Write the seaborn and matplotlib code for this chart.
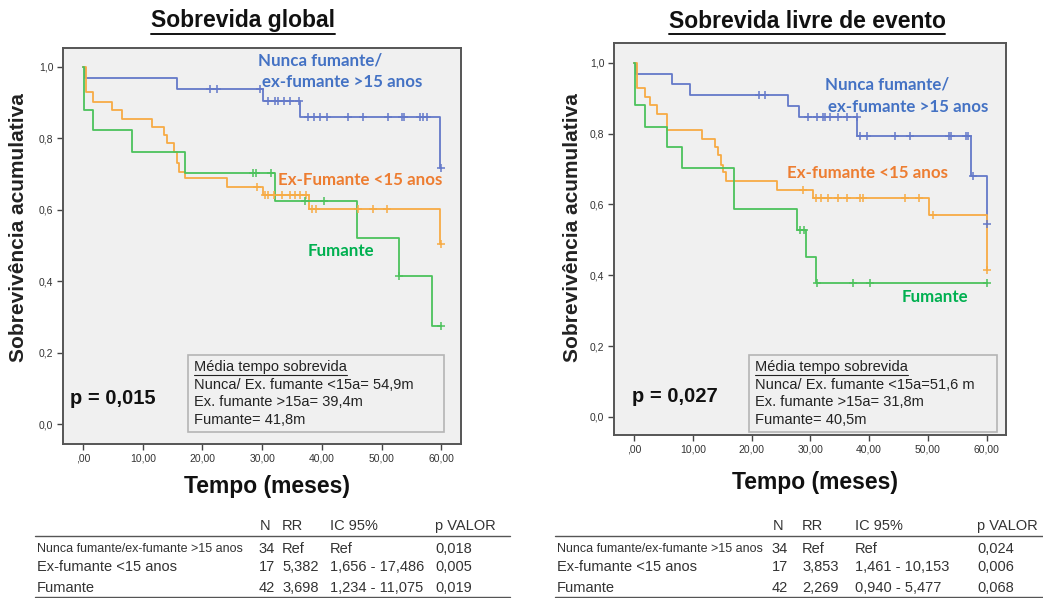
import numpy as np
import pandas as pd
import matplotlib
matplotlib.use("Agg")
import matplotlib.pyplot as plt
import seaborn as sns
from matplotlib.lines import Line2D
from matplotlib.patches import Rectangle

sns.set_theme(style="white")
plt.rcParams["font.family"] = ["Liberation Sans", "DejaVu Sans"]

W, H = 1043, 598

# ---------------- Kaplan-Meier curves: step times and survival levels ----------------
# Sobrevida global
og_nunca_t = [0, 0.3, 15.8, 30.2, 36.3, 59.8, 60.0]
og_nunca_s = [1.0, 0.968, 0.938, 0.905, 0.861, 0.716, 0.716]
og_nunca_cens_t = [21.3, 22.4, 29.6, 31.0, 32.2, 32.7, 33.6, 34.7, 36.2, 37.7, 38.6, 39.7, 40.8,
                   44.4, 46.9, 51.1, 53.4, 53.7, 56.4, 57.0, 57.6, 60.0]
og_exf_t = [0, 0.5, 1.6, 4.8, 6.5, 11.6, 13.6, 14.0, 15.3, 15.7, 16.1, 17.1, 24.1, 30.2, 37.9, 59.8, 60.0]
og_exf_s = [1.0, 0.931, 0.903, 0.878, 0.854, 0.831, 0.810, 0.786, 0.763, 0.730, 0.707, 0.688,
            0.665, 0.640, 0.602, 0.504, 0.504]
og_exf_cens_t = [29.1, 30.5, 31.0, 32.0, 33.3, 34.7, 35.5, 36.3, 37.4, 38.3, 39.1, 46.1, 48.6, 50.9, 60.0]
og_fum_t = [0, 0.2, 1.7, 8.2, 17.1, 32.2, 45.9, 53.0, 58.4, 60.0]
og_fum_s = [1.0, 0.880, 0.822, 0.763, 0.704, 0.625, 0.520, 0.415, 0.275, 0.275]
og_fum_cens_t = [28.5, 29.0, 31.4, 37.2, 40.3, 53.0, 60.0]

# Sobrevida livre de evento
le_nunca_t = [0, 0.3, 6.4, 9.5, 26.2, 28.1, 38.0, 57.4, 60.0, 60.0]
le_nunca_s = [1.0, 0.968, 0.940, 0.910, 0.877, 0.846, 0.794, 0.681, 0.545, 0.545]
le_nunca_cens_t = [21.3, 22.3, 29.6, 31.1, 32.2, 32.5, 33.3, 34.7, 36.2, 37.9, 38.4, 39.6, 44.4,
                   46.9, 53.6, 53.9, 56.5, 56.9, 57.7, 60.0]
le_exf_t = [0, 0.5, 1.9, 2.7, 3.9, 5.7, 11.5, 13.8, 14.3, 14.8, 15.2, 15.6, 24.3, 30.5, 50.2, 60.0, 60.0]
le_exf_s = [1.0, 0.928, 0.903, 0.881, 0.856, 0.809, 0.784, 0.762, 0.740, 0.712, 0.693, 0.665,
            0.641, 0.618, 0.571, 0.415, 0.415]
le_exf_cens_t = [28.8, 31.0, 31.9, 33.0, 34.7, 36.2, 38.4, 39.0, 46.1, 48.5, 50.8, 60.0]
le_fum_t = [0, 0.2, 1.9, 5.7, 8.2, 17.0, 27.7, 29.3, 31.0, 60.0]
le_fum_s = [1.0, 0.880, 0.820, 0.762, 0.704, 0.587, 0.528, 0.453, 0.379, 0.379]
le_fum_cens_t = [28.3, 28.9, 31.2, 37.2, 40.1, 60.0]

groups = ["Nunca fumante/ex-fumante >15 anos", "Ex-fumante <15 anos", "Fumante"]
line_colors = {"Nunca fumante/ex-fumante >15 anos": "#6479C9",
               "Ex-fumante <15 anos": "#F7AB45",
               "Fumante": "#4CC25C"}
text_blue, text_orange, text_green = "#4472C4", "#ED7D31", "#00B050"

p_values = ["p = 0,015", "p = 0,027"]
mean_titles = "Média tempo sobrevida"
mean_lines = [["Nunca/ Ex. fumante <15a= 54,9m", "Ex. fumante >15a= 39,4m", "Fumante= 41,8m"],
              ["Nunca/ Ex. fumante <15a=51,6 m", "Ex. fumante >15a= 31,8m", "Fumante= 40,5m"]]
titles = ["Sobrevida global", "Sobrevida livre de evento"]
xticks = [0, 10, 20, 30, 40, 50, 60]
xtick_labels = [",00", "10,00", "20,00", "30,00", "40,00", "50,00", "60,00"]
yticks = [0.0, 0.2, 0.4, 0.6, 0.8, 1.0]
ytick_labels = ["0,0", "0,2", "0,4", "0,6", "0,8", "1,0"]

# Cox table
tab_header = ["N", "RR", "IC 95%", "p VALOR"]
tab_rows = ["Nunca fumante/ex-fumante >15 anos", "Ex-fumante <15 anos", "Fumante"]
tab_n = ["34", "17", "42"]
tab_rr = [["Ref", "5,382", "3,698"], ["Ref", "3,853", "2,269"]]
tab_ic = [["Ref", "1,656 - 17,486", "1,234 - 11,075"], ["Ref", "1,461 - 10,153", "0,940 - 5,477"]]
tab_p = [["0,018", "0,005", "0,019"], ["0,024", "0,006", "0,068"]]


def surv_at(ts, ss, t):
    idx = np.searchsorted(ts, t, side="right") - 1
    return ss[max(idx, 0)]


def curve_frames(spec):
    lines, cens = [], []
    for g, (t, s, ct) in zip(groups, spec):
        lines.append(pd.DataFrame({"t": t, "s": s, "g": g}))
        cs = [surv_at(t, s, c) for c in ct]
        cens.append(pd.DataFrame({"t": ct, "s": cs, "g": g}))
    return pd.concat(lines, ignore_index=True), pd.concat(cens, ignore_index=True)


panels = [
    [(og_nunca_t, og_nunca_s, og_nunca_cens_t), (og_exf_t, og_exf_s, og_exf_cens_t),
     (og_fum_t, og_fum_s, og_fum_cens_t)],
    [(le_nunca_t, le_nunca_s, le_nunca_cens_t), (le_exf_t, le_exf_s, le_exf_cens_t),
     (le_fum_t, le_fum_s, le_fum_cens_t)],
]

fig = plt.figure(figsize=(W / 100, H / 100), dpi=100)
fig.patch.set_facecolor("white")


def fx(x):
    return x / W


def fy(y):
    return 1 - y / H


def ftext(x, y, s, **kw):
    return fig.text(fx(x), fy(y), s, **kw)


def underline(t, color="#111111", lw=1.2, pad=2.0):
    fig.canvas.draw()
    bb = t.get_window_extent(renderer=fig.canvas.get_renderer())
    y = (bb.y0 - pad) / fig.bbox.height
    fig.add_artist(Line2D([bb.x0 / fig.bbox.width, bb.x1 / fig.bbox.width], [y, y],
                          color=color, lw=lw, transform=fig.transFigure))


# axes boxes (pixels): left, top, right, bottom
ax_boxes = [(63, 48, 461, 444), (614, 43, 1006, 435)]
xlims = [(-3.35, 63.3), (-3.4, 63.3)]
ylims = [(-0.056, 1.053), (-0.051, 1.056)]

axes = []
for i, (l, t, r, b) in enumerate(ax_boxes):
    ax = fig.add_axes([fx(l), fy(b), fx(r) - fx(l), fy(t) - fy(b)])
    ax.set_facecolor("#F0F0F0")
    lines_df, cens_df = curve_frames(panels[i])
    for g in groups:
        sns.lineplot(data=lines_df[lines_df.g == g], x="t", y="s", drawstyle="steps-post",
                     estimator=None, sort=False, color=line_colors[g], lw=1.3, ax=ax, legend=False)
        sns.scatterplot(data=cens_df[cens_df.g == g], x="t", y="s", marker="+", s=30,
                        color=line_colors[g], linewidth=1.1, ax=ax, legend=False, zorder=3)
    ax.set_xlim(*xlims[i])
    ax.set_ylim(*ylims[i])
    ax.set_xticks(xticks)
    ax.set_xticklabels(xtick_labels)
    ax.set_yticks(yticks)
    ax.set_yticklabels(ytick_labels)
    ax.tick_params(axis="both", which="both", direction="out", length=4, width=1,
                   color="#444444", labelsize=7.5, labelcolor="#333333", pad=3,
                   bottom=True, left=True)
    ax.set_xlabel("")
    ax.set_ylabel("")
    for sp in ax.spines.values():
        sp.set_color("#555555")
        sp.set_linewidth(1.4)
    axes.append(ax)

# titles
for (x, s) in zip([243, 807], titles):
    t = ftext(x, 21, s, ha="center", va="center", fontsize=16.5, fontweight="bold", color="#111111")
    underline(t, lw=1.4, pad=1.5)

# axis labels
ftext(267, 487, "Tempo (meses)", ha="center", va="center", fontsize=16.5, fontweight="bold", color="#111111")
ftext(815, 482, "Tempo (meses)", ha="center", va="center", fontsize=16.5, fontweight="bold", color="#111111")
ftext(19, 228, "Sobrevivência acumulativa", ha="center", va="center", rotation=90,
      fontsize=15, fontweight="bold", color="#222222")
ftext(573, 228, "Sobrevivência acumulativa", ha="center", va="center", rotation=90,
      fontsize=15, fontweight="bold", color="#222222")

# group labels inside the plots
lab_kw = dict(fontsize=12.2, fontweight="bold", family=["Lato", "DejaVu Sans"], va="center")
ftext(258, 60, "Nunca fumante/", color=text_blue, ha="left", **lab_kw)
ftext(262, 82, "ex-fumante >15 anos", color=text_blue, ha="left", **lab_kw)
ftext(278, 180, "Ex-Fumante <15 anos", color=text_orange, ha="left", **lab_kw)
ftext(308, 251, "Fumante", color=text_green, ha="left", **lab_kw)
ftext(825, 85, "Nunca fumante/", color=text_blue, ha="left", **lab_kw)
ftext(828, 107, "ex-fumante >15 anos", color=text_blue, ha="left", **lab_kw)
ftext(787, 173, "Ex-fumante <15 anos", color=text_orange, ha="left", **lab_kw)
ftext(902, 297, "Fumante", color=text_green, ha="left", **lab_kw)

# p-values
ftext(70, 398, p_values[0], ha="left", va="center", fontsize=14.5, fontweight="bold", color="#111111")
ftext(632, 397, p_values[1], ha="left", va="center", fontsize=14.5, fontweight="bold", color="#111111")

# mean survival boxes
for (bx0, by0, bx1, by1), lines in zip([(188, 355, 444, 432), (749, 355, 997, 432)], mean_lines):
    fig.add_artist(Rectangle((fx(bx0), fy(by1)), fx(bx1) - fx(bx0), fy(by0) - fy(by1),
                             transform=fig.transFigure, facecolor="#F0F0F0",
                             edgecolor="#B5B5B5", lw=1.2))
    t = ftext(bx0 + 6, by0 + 12, mean_titles, ha="left", va="center", fontsize=10.5, color="#222222")
    underline(t, color="#222222", lw=0.8, pad=1)
    for k, s in enumerate(lines):
        ftext(bx0 + 6, by0 + 30 + 17.5 * k, s, ha="left", va="center", fontsize=10.5, color="#222222")

# Cox regression tables
tab_cfg = [
    dict(x0=35, x1=510, lab=37, nh=260, n=275, rr=282, ic=330, p=435),
    dict(x0=555, x1=1043, lab=557, nh=773, n=788, rr=802, ic=855, p=977),
]
row_y = [549, 567, 588]
for i, c in enumerate(tab_cfg):
    kw = dict(va="center", fontsize=10.5, color="#333333")
    ftext(c["nh"], 526, tab_header[0], ha="left", **kw)
    ftext(c["rr"], 526, tab_header[1], ha="left", **kw)
    ftext(c["ic"], 526, tab_header[2], ha="left", **kw)
    ftext(c["p"], 526, tab_header[3], ha="left", **kw)
    fig.add_artist(Line2D([fx(c["x0"]), fx(c["x1"])], [fy(536), fy(536)], color="#555555",
                          lw=1.0, transform=fig.transFigure))
    fig.add_artist(Line2D([fx(c["x0"]), fx(c["x1"])], [fy(597), fy(597)], color="#555555",
                          lw=1.0, transform=fig.transFigure))
    for r in range(3):
        fs = 9.0 if r == 0 else 10.5
        ftext(c["lab"], row_y[r], tab_rows[r], ha="left", va="center", fontsize=fs, color="#333333")
        ftext(c["n"], row_y[r], tab_n[r], ha="right", **kw)
        ftext(c["rr"], row_y[r], tab_rr[i][r], ha="left", **kw)
        ftext(c["ic"], row_y[r], tab_ic[i][r], ha="left", **kw)
        ftext(c["p"], row_y[r], tab_p[i][r], ha="left", **kw)

fig.savefig("out.png", dpi=100, facecolor="white")
